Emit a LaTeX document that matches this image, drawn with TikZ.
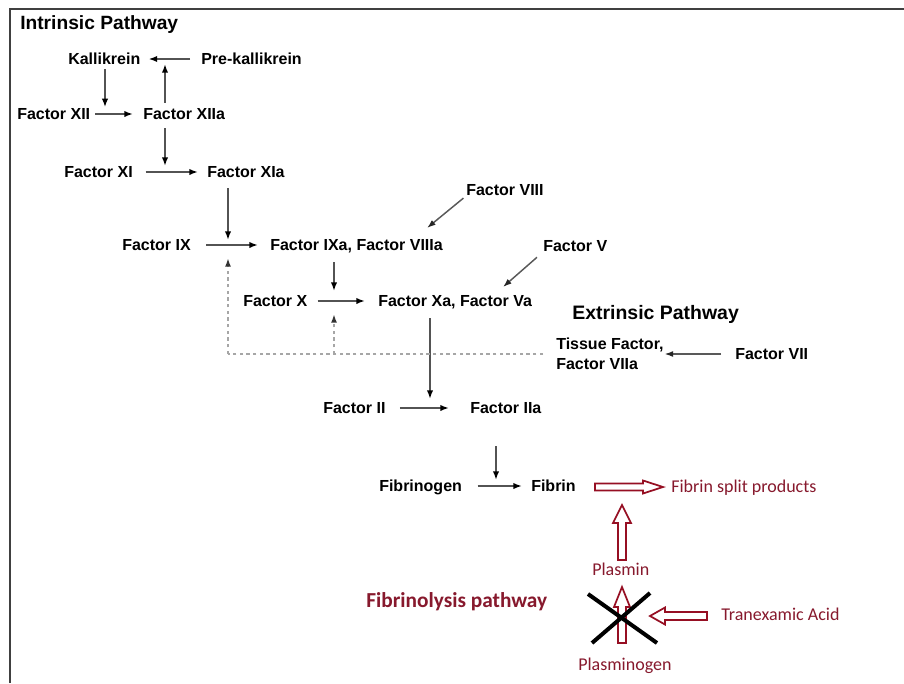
\documentclass[tikz,border=0pt]{standalone}
\usepackage{fontspec}
\setmainfont{Liberation Sans}
\newfontfamily\carlito{Carlito}
\usetikzlibrary{arrows.meta,calc}
\definecolor{fred}{RGB}{135,25,45}
\definecolor{fbox}{RGB}{150,15,35}
\begin{document}
\begin{tikzpicture}[x=0.75pt,y=-0.75pt]
\tikzset{
 lbl/.style={font=\fontsize{12}{14}\selectfont\bfseries, inner sep=0pt, text height=8.6pt, text depth=0pt, anchor=west},
 tfs/.style={font=\fontsize{12}{15}\selectfont\bfseries, inner sep=0pt, align=left, anchor=west},
 ttl/.style={anchor=base west, inner sep=0pt},
 rtxt/.style={font=\carlito\fontsize{13.5}{16}\selectfont, text=fred, anchor=base west, inner sep=0pt},
 arr/.style={draw=gray!65!black, line width=1.4pt, -{Latex[length=6.5pt,width=4.8pt,color=black]}},
 arrl/.style={draw=gray!70!black, line width=1.1pt, -{Latex[length=6.5pt,width=4.5pt,color=black!85]}},
 dsh/.style={draw=gray!70, line width=1.6pt, dash pattern=on 2.5pt off 2.5pt},
 hollow/.style={draw=fbox, line width=1.3pt, fill=white, line join=miter},
 crossln/.style={draw=black, line width=3pt}
}
\useasboundingbox (0,0) rectangle (904,683);
\fill[white] (0,0) rectangle (904,683);
\draw[line width=1.5pt, black!75] (9.5,683) -- (9.5,8.5) -- (904,8.5);

% titles
\node[ttl, font=\fontsize{14.4}{17}\selectfont\bfseries] (intr) at (20,29) {Intrinsic Pathway};
\node[ttl, font=\fontsize{14.6}{18}\selectfont\bfseries] (extr) at (572,319) {Extrinsic Pathway};
\node[ttl, font=\carlito\fontsize{16}{19}\selectfont\bfseries, text=fred] (fpath) at (366,607) {Fibrinolysis pathway};

% black labels
\node[lbl] (kal) at (68,59) {Kallikrein};
\node[lbl] (pk) at (201,59) {Pre-kallikrein};
\node[lbl] (f12) at (17,114) {Factor XII};
\node[lbl] (f12a) at (143,114) {Factor XIIa};
\node[lbl] (f11) at (64,172) {Factor XI};
\node[lbl] (f11a) at (207,172) {Factor XIa};
\node[lbl] (f9) at (122,245) {Factor IX};
\node[lbl] (f9a) at (270,245) {Factor IXa, Factor VIIIa};
\node[lbl] (f8) at (466,190) {Factor VIII};
\node[lbl] (f5) at (543,246) {Factor V};
\node[lbl] (f10) at (243,301) {Factor X};
\node[lbl] (f10a) at (378,301) {Factor Xa, Factor Va};
\node[lbl] (f7) at (735,354) {Factor VII};
\node[tfs] (tf) at (556,354) {Tissue Factor,\\Factor VIIa};
\node[lbl] (f2) at (323,408) {Factor II};
\node[lbl] (f2a) at (470,408) {Factor IIa};
\node[lbl] (fbg) at (379,486) {Fibrinogen};
\node[lbl] (fib) at (531,486) {Fibrin};

% red labels
\node[rtxt] (fsp) at (671,492) {Fibrin split products};
\node[rtxt] (plm) at (592,575) {Plasmin};
\node[rtxt] (tra) at (721,620) {Tranexamic Acid};
\node[rtxt] (plg) at (578,670) {Plasminogen};

% junctions
\coordinate (j1) at (105,114);
\coordinate (j2) at (165,59);
\coordinate (j3) at (165,172);
\coordinate (j4) at (228,245);
\coordinate (j5) at (334,301);
\coordinate (j6) at (430,408);
\coordinate (j7) at (496,486);
\coordinate (c8) at (427,228);
\coordinate (c5) at (503,287);
\coordinate (d1) at (228,354);
\coordinate (d2) at (334,354);

% horizontal arrows
\draw[arr, shorten <=8.25pt, shorten >=6pt] (pk.west) -- (kal.east);
\draw[arr, shorten <=3.75pt, shorten >=7.5pt] (f12.east) -- (f12a.west);
\draw[arr, shorten <=9.4pt, shorten >=6.75pt] (f11.east) -- (f11a.west);
\draw[arr, shorten <=11.6pt, shorten >=9pt] (f9.east) -- (f9a.west);
\draw[arr, shorten <=7.5pt, shorten >=9.75pt] (f10.east) -- (f10a.west);
\draw[arr, shorten <=10.5pt, shorten >=15.75pt] (f2.east) -- (f2a.west);
\draw[arr, shorten <=11.6pt, shorten >=6.75pt] (fbg.east) -- (fib.west);
\draw[arrl, shorten <=10.5pt, shorten >=0.5pt] (f7.west) -- (f7.west -| tf.east);

% vertical arrows
\draw[arr, shorten <=3pt, shorten >=5pt] (kal.south -| j1) -- (j1);
\draw[arr, shorten <=4pt, shorten >=3.75pt] (f12a.north -| j2) -- (j2);
\draw[arr, shorten <=6pt, shorten >=4.5pt] (f12a.south -| j3) -- (j3);
\draw[arr, shorten <=7.5pt, shorten >=3.75pt] (f11a.south -| j4) -- (j4);
\draw[arr, shorten <=8.5pt, shorten >=7.5pt] (f9a.south -| j5) -- (j5);
\draw[arr, shorten <=8.5pt, shorten >=6.75pt] (f10a.south -| j6) -- (j6);
\draw[arr, shorten <=24pt, shorten >=4.5pt] (f2a.south -| j7) -- (j7);

% diagonal arrows
\draw[arrl, shorten <=2.5pt] (f8.south west) -- (c8);
\draw[arrl, shorten <=6pt] (f5.south west) -- (c5);

% dashed
\draw[dsh, shorten <=9.75pt] (tf.west) -- (d1);
\draw[dsh, shorten >=9.75pt, -{Latex[length=6.5pt,width=4.5pt,color=black!80]}] (d1) -- (j4);
\draw[dsh, shorten >=9.75pt, -{Latex[length=6.5pt,width=4.5pt,color=black!80]}] (d2) -- (j5);

% hollow red arrows
\coordinate (h1a) at (595,487); \coordinate (h1b) at (663,487);
\coordinate (h2a) at (622,560); \coordinate (h2b) at (622,505);
\coordinate (h3a) at (622,643); \coordinate (h3b) at (622,587);
\coordinate (h4a) at (707,616); \coordinate (h4b) at (650,616);
\draw[hollow] ($(h1a)+(0,-3.5)$) -- ($(h1b)+(-20,-3.5)$) -- ($(h1b)+(-20,-6.5)$) -- (h1b)
  -- ($(h1b)+(-20,6.5)$) -- ($(h1b)+(-20,3.5)$) -- ($(h1a)+(0,3.5)$) -- cycle;
\draw[hollow] ($(h2a)+(-4,0)$) -- ($(h2b)+(-4,18)$) -- ($(h2b)+(-9,18)$) -- (h2b)
  -- ($(h2b)+(9,18)$) -- ($(h2b)+(4,18)$) -- ($(h2a)+(4,0)$) -- cycle;
\draw[hollow] ($(h3a)+(-4,0)$) -- ($(h3b)+(-4,20)$) -- ($(h3b)+(-8,20)$) -- (h3b)
  -- ($(h3b)+(8,20)$) -- ($(h3b)+(4,20)$) -- ($(h3a)+(4,0)$) -- cycle;
\draw[hollow] ($(h4a)+(0,-4)$) -- ($(h4b)+(15,-4)$) -- ($(h4b)+(15,-8.5)$) -- (h4b)
  -- ($(h4b)+(15,8.5)$) -- ($(h4b)+(15,4)$) -- ($(h4a)+(0,4)$) -- cycle;

% cross
\coordinate (x1a) at (588,594); \coordinate (x1b) at (657,643);
\coordinate (x2a) at (650,593); \coordinate (x2b) at (592,643);
\draw[crossln] (x1a) -- (x1b);
\draw[crossln] (x2a) -- (x2b);
\end{tikzpicture}
\end{document}
